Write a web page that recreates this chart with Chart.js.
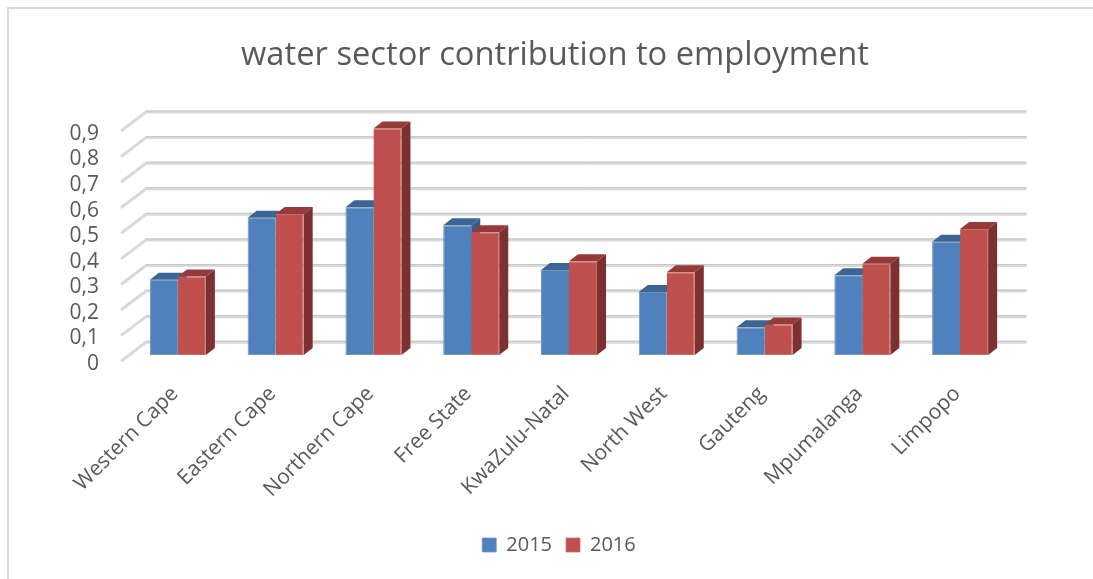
<!DOCTYPE html>
<html>
<head>
<meta charset="utf-8">
<title>water sector contribution to employment</title>
<script src="https://cdn.jsdelivr.net/npm/chart.js@4"></script>
<style>
    html, body { margin: 0; padding: 0; background: #fff; }
    #wrap { position: relative; width: 1093px; height: 579px; overflow: hidden; }
    #frame { position: absolute; left: 7px; top: 7px; width: 1100px; height: 600px; border: 2px solid #d9d9d9; box-sizing: border-box; }
</style>
</head>
<body>
<div id="wrap">
    <div id="frame"></div>
    <canvas id="waterChart" width="1093" height="579" style="position:absolute;left:0;top:0"></canvas>
</div>
<script>
// Share of employment by province
var provinces = ['Western Cape', 'Eastern Cape', 'Northern Cape', 'Free State', 'KwaZulu-Natal', 'North West', 'Gauteng', 'Mpumalanga', 'Limpopo'];
var values2015 = [0.294, 0.537, 0.578, 0.507, 0.332, 0.246, 0.109, 0.312, 0.443];
var values2016 = [0.307, 0.551, 0.886, 0.480, 0.367, 0.324, 0.119, 0.357, 0.493];
var yTickLabels = ['0', '0,1', '0,2', '0,3', '0,4', '0,5', '0,6', '0,7', '0,8', '0,9'];

var fontName = '"Open Sans", sans-serif';
var textColor = '#595959';

// Pseudo 3D walls and bar faces, drawn behind the flat bars
var box3d = {
    id: 'box3d',
    afterLayout: function (chart) {
        // title and legend are centred on the whole picture, not on the plot
        chart.titleBlock.left = 0;
        chart.titleBlock.right = 1110;
        chart.legend.left = 0;
        chart.legend.right = 1118;
    },
    beforeDatasetsDraw: function (chart) {
        var ctx = chart.ctx;
        var area = chart.chartArea;
        var y = chart.scales.y;

        ctx.save();
        ctx.lineCap = 'butt';
        yTickLabels.forEach(function (label, i) {
            var py = y.getPixelForValue(i / 10) - 12.8;
            ctx.beginPath();
            ctx.moveTo(area.left - 8, py + 19);
            ctx.lineTo(area.left + 17, py);
            ctx.lineTo(area.right + 17.5, py);
            ctx.strokeStyle = '#d9d9d9';
            ctx.lineWidth = 3;
            ctx.stroke();
            ctx.beginPath();
            ctx.moveTo(area.left + 17, py - 1);
            ctx.lineTo(area.right + 17.5, py - 1);
            ctx.strokeStyle = '#c6c6c6';
            ctx.lineWidth = 1;
            ctx.stroke();
        });

        var faces = [
            { top: '#3b6595', side: '#365d8b' },
            { top: '#953a38', side: '#7c3130' }
        ];
        var dx = 9, dy = 7;
        chart.data.datasets.forEach(function (ds, d) {
            chart.getDatasetMeta(d).data.forEach(function (bar) {
                var half = bar.width / 2;
                var l = bar.x - half, r = bar.x + half;
                // top face
                ctx.beginPath();
                ctx.moveTo(l, bar.y);
                ctx.lineTo(l + dx, bar.y - dy);
                ctx.lineTo(r + dx, bar.y - dy);
                ctx.lineTo(r, bar.y);
                ctx.closePath();
                ctx.fillStyle = faces[d].top;
                ctx.fill();
                // side face
                ctx.beginPath();
                ctx.moveTo(r, bar.y);
                ctx.lineTo(r + dx, bar.y - dy);
                ctx.lineTo(r + dx, bar.base - dy);
                ctx.lineTo(r, bar.base);
                ctx.closePath();
                ctx.fillStyle = faces[d].side;
                ctx.fill();
            });
        });
        ctx.restore();
    }
};

var chart = new Chart(document.getElementById('waterChart').getContext('2d'), {
    type: 'bar',
    data: {
        labels: provinces,
        datasets: [
            {
                label: '2015', data: values2015, backgroundColor: '#4f81bd', borderColor: '#7394c0',
                borderWidth: { left: 1, top: 1, right: 0, bottom: 1 }, borderSkipped: false
            },
            {
                label: '2016', data: values2016, backgroundColor: '#c0504d', borderColor: '#c66c69',
                borderWidth: { left: 0, top: 1, right: 1, bottom: 1 }, borderSkipped: false
            }
        ]
    },
    options: {
        responsive: false,
        animation: false,
        categoryPercentage: 0.573,
        barPercentage: 1,
        layout: { padding: { right: 84, bottom: 14 } },
        plugins: {
            title: {
                display: true,
                text: 'water sector contribution to employment',
                color: textColor,
                font: { family: fontName, size: 32.7, weight: 'normal' },
                padding: { top: 36, bottom: 49.6 }
            },
            legend: {
                position: 'bottom',
                labels: {
                    color: textColor,
                    font: { family: fontName, size: 20 },
                    boxWidth: 14,
                    boxHeight: 14,
                    padding: 14
                }
            },
            tooltip: { enabled: false }
        },
        scales: {
            x: {
                grid: { display: false },
                border: { display: false },
                afterFit: function (scale) { scale.height = 166; },
                ticks: {
                    color: textColor,
                    font: { family: fontName, size: 21 },
                    minRotation: 45,
                    maxRotation: 45,
                    padding: 18.5,
                    labelOffset: -3,
                    autoSkip: false
                }
            },
            y: {
                min: 0,
                max: 0.9,
                grid: { display: false, drawTicks: false },
                border: { display: false },
                afterFit: function (scale) { scale.width = 129; },
                ticks: {
                    color: textColor,
                    font: { family: fontName, size: 21 },
                    stepSize: 0.1,
                    autoSkip: false,
                    padding: 30,
                    labelOffset: 9,
                    callback: function (value, index) { return yTickLabels[index]; }
                }
            }
        }
    },
    plugins: [box3d]
});
</script>
</body>
</html>
